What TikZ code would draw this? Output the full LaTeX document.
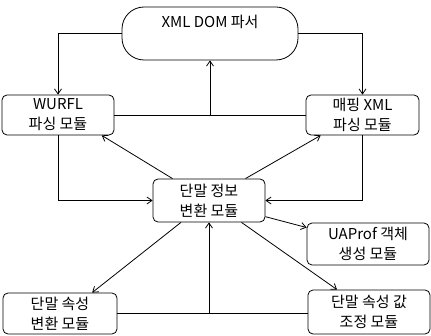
\documentclass[tikz,border=0pt]{standalone}
\usepackage{fontspec}
\setmainfont{Noto Sans CJK KR}
\usetikzlibrary{arrows.meta}

\begin{document}
\begin{tikzpicture}[x=1pt, y=1pt, line width=0.8pt, >={Straight Barb[length=5pt, width=7pt]},
        box/.style={draw, rounded corners=5pt, align=center, inner sep=0pt, font=\fontsize{15}{20}\selectfont}]
            \useasboundingbox (0, 0) rectangle (431, 335);

            \node[draw, rounded corners=22pt, minimum width=176, inner xsep=0pt, inner ysep=6pt,
                text height=15pt, text depth=26pt, font=\fontsize{15}{20}\selectfont] (dom) at (210, 301.5) {XML DOM 파서};

            \node[box, minimum width=112, minimum height=40] (wurfl) at (58, 220) {WURFL\\파싱 모듈};
            \node[box, minimum width=113, minimum height=40] (mapping) at (362.5, 220) {매핑 XML\\파싱 모듈};
            \node[box, minimum width=112, minimum height=43] (conv) at (209, 134.5) {단말 정보\\변환 모듈};
            \node[box, minimum width=122, minimum height=42] (uap) at (368, 91) {UAProf 객체\\생성 모듈};
            \node[box, minimum width=114, minimum height=41] (attr) at (60, 21.5) {단말 속성\\변환 모듈};
            \node[box, minimum width=122, minimum height=44] (adjust) at (369, 23) {단말 속성 값\\조정 모듈};

            \draw[->] (dom.west) -| (wurfl.north);
            \draw[->] (dom.east) -| (mapping.north);
            \draw (wurfl.east) -- (mapping.west);
            \draw[->] (wurfl.east -| dom.south) -- (dom.south);

            \draw[->] (wurfl.south) |- (conv.west);
            \draw[->] (mapping.south) |- (conv.east);
            \draw[->] (conv.149) -- (wurfl.-25);
            \draw[->] (conv.31) -- (mapping.206);
            \draw[->] (conv.-16) -- (uap.165);
            \draw[->] (conv.218) -- (attr.33);
            \draw[->] (conv.-34) -- (adjust.145);

            \draw (attr.east) -- (attr.east -| adjust.west);
            \draw[->] (attr.east -| conv.south) -- (conv.south);
        \end{tikzpicture}
\end{document}
